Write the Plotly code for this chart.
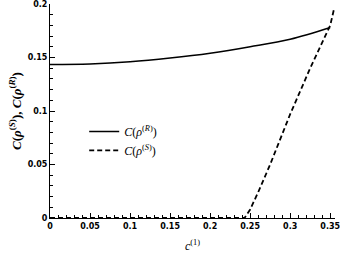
import plotly.graph_objects as go

# data
x_r = [0.0, 0.05, 0.1, 0.15, 0.2, 0.25, 0.3, 0.35]
c_r = [0.1435, 0.1440, 0.1460, 0.1495, 0.1540, 0.1600, 0.1670, 0.1780]
x_s = [0.0, 0.243, 0.25, 0.26, 0.275, 0.3, 0.325, 0.35, 0.355]
c_s = [0.0, 0.0, 0.008, 0.024, 0.050, 0.097, 0.140, 0.180, 0.196]
x_ticks = [0, 0.05, 0.1, 0.15, 0.2, 0.25, 0.3, 0.35]
x_labels = ["0", "0.05", "0.1", "0.15", "0.2", "0.25", "0.3", "0.35"]
y_ticks = [0, 0.05, 0.1, 0.15, 0.2]
y_labels = ["0", "0.05", "0.1", "0.15", "0.2"]

fig = go.Figure()
fig.add_trace(go.Scatter(x=x_r, y=c_r, mode="lines", line=dict(color="black", width=1.5, shape="spline"),
                         cliponaxis=False,
                         name="<i>C</i>(<i>ρ</i><sup>(<i>R</i>)</sup>)"))
fig.add_trace(go.Scatter(x=x_s, y=c_s, mode="lines", line=dict(color="black", width=1.8, dash="5px,3px"),
                         cliponaxis=False,
                         name="<i>C</i>(<i>ρ</i><sup>(<i>S</i>)</sup>)"))

tickfont = dict(family="DejaVu Sans", size=8, color="black")
fig.update_layout(
    width=340, height=256,
    margin=dict(l=50, r=5, t=4, b=38),
    plot_bgcolor="white", paper_bgcolor="white",
    showlegend=True,
    legend=dict(x=0.12, y=0.36, xanchor="left", yanchor="middle", bgcolor="rgba(0,0,0,0)",
                font=dict(family="Liberation Serif", size=12, color="black")),
    xaxis=dict(range=[0, 0.356], tickvals=x_ticks, ticklabeloverflow="allow",
               ticktext=["<b>%s</b>" % t for t in x_labels], automargin=False, layer="below traces",
               ticks="inside", ticklen=5, tickcolor="black", showline=True, linecolor="black", linewidth=1,
               showgrid=False, zeroline=False, tickfont=tickfont,
               minor=dict(dtick=0.01, tick0=0, ticks="inside", ticklen=3, tickcolor="black", showgrid=False),
               title=dict(text="<i>c</i><sup>(1)</sup>", font=dict(family="Liberation Serif", size=12, color="black"), standoff=12)),
    yaxis=dict(range=[0, 0.2], tickvals=y_ticks, ticklabeloverflow="allow",
               ticktext=["<b>%s</b>" % t for t in y_labels], automargin=False, layer="below traces",
               ticks="inside", ticklen=5, tickcolor="black", showline=True, linecolor="black", linewidth=1,
               showgrid=False, zeroline=False, tickfont=tickfont,
               minor=dict(dtick=0.01, tick0=0, ticks="inside", ticklen=3, tickcolor="black", showgrid=False),
               title=dict(text="<b><i>C</i>(<i>ρ</i><sup>(<i>S</i>)</sup>), <i>C</i>(<i>ρ</i><sup>(<i>R</i>)</sup>)</b>",
                          font=dict(family="Liberation Serif", size=13, color="black"), standoff=3)),
)
fig.write_html("out.html", config={"displayModeBar": False},
               post_script="document.body.style.margin='0';")
